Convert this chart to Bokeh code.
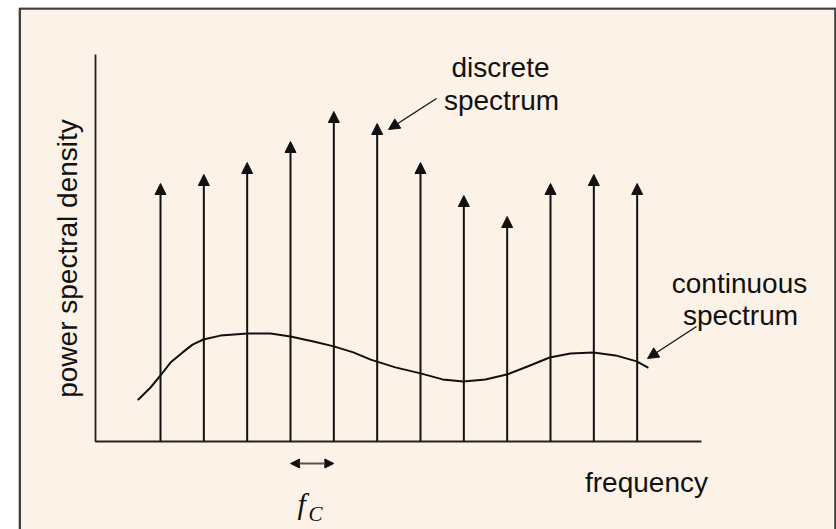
import math
from bokeh.plotting import figure
from bokeh.models import Range1d, ColumnDataSource, Arrow, NormalHead, Label
from bokeh.embed import file_html
from bokeh.resources import INLINE

# ---------------- data ----------------
# discrete spectrum: lines at multiples of the carrier spacing f_C
harmonic = [1, 2, 3, 4, 5, 6, 7, 8, 9, 10, 11, 12]
discrete_psd = [8.6, 8.9, 9.3, 10.0, 11.0, 10.6, 9.3, 8.2, 7.5, 8.6, 8.9, 8.6]

# continuous spectrum
continuous_freq = [0.49, 0.77, 1.00, 1.23, 1.51, 1.74, 1.99, 2.38, 3.01, 3.54,
                   4.00, 4.53, 5.00, 5.45, 5.85, 6.42, 7.00, 7.51, 7.99, 8.50,
                   8.99, 9.47, 9.98, 10.46, 10.99, 11.50, 11.99, 12.24]
continuous_psd = [1.40, 1.80, 2.20, 2.63, 2.97, 3.23, 3.40, 3.53, 3.60, 3.60,
                  3.50, 3.33, 3.17, 2.97, 2.73, 2.47, 2.27, 2.07, 2.00, 2.07,
                  2.23, 2.50, 2.80, 2.93, 2.97, 2.87, 2.67, 2.47]

y_label = "power spectral density"
x_label = "frequency"
discrete_label = ["discrete", "spectrum"]
continuous_label = ["continuous", "spectrum"]

# ---------------- layout ----------------
BG = "#FDF2E8"
INK = "#111111"
W, H = 836, 529
LEFT, TOP = 18, 7
PX0, PXS = 116.67, 43.333     # page-x of freq 0, px per f_C
BASE, PYS = 441.0, 30.0       # page-y of psd 0, px per unit


def dx(px):
    return (px - PX0) / PXS


def dy(py):
    return (BASE - py) / PYS


p = figure(width=W, height=H, output_backend="svg", toolbar_location=None,
           x_range=Range1d(dx(LEFT), dx(W)),
           y_range=Range1d(dy(H), dy(TOP)),
           x_axis_type=None, y_axis_type=None,
           min_border_left=LEFT, min_border_right=0,
           min_border_top=TOP, min_border_bottom=0,
           background_fill_color=BG, border_fill_color="white",
           outline_line_color=None)

# outer frame (left, top, right edges)
p.line([dx(19.2), dx(19.2), dx(835.0), dx(835.0)],
       [dy(560), dy(8.0), dy(8.0), dy(560)],
       line_width=2.6, line_color="#404040")

# axes (L shape)
x_origin = -0.5
p.line([x_origin, x_origin, dx(701)], [dy(54), 0, 0],
       line_width=1.8, line_color="#222222")

# discrete spectral lines
src = ColumnDataSource(dict(x=harmonic, y0=[0] * len(harmonic), y1=discrete_psd))
p.add_layout(Arrow(source=src, x_start="x", y_start="y0", x_end="x", y_end="y1",
                   line_width=2, line_color=INK,
                   end=NormalHead(size=11, fill_color=INK, line_color=INK, line_width=1)))

# continuous spectrum
p.line(continuous_freq, continuous_psd, line_width=2, line_color=INK,
       line_join="round", line_cap="round")

# f_C spacing marker
p.add_layout(Arrow(x_start=harmonic[3], y_start=dy(463), x_end=harmonic[4], y_end=dy(463),
                   line_width=2, line_color="#555555",
                   start=NormalHead(size=9, fill_color=INK, line_color=INK),
                   end=NormalHead(size=9, fill_color=INK, line_color=INK)))

# annotation arrows
p.add_layout(Arrow(x_start=dx(436), y_start=dy(98), x_end=dx(388), y_end=dy(129),
                   line_width=1.3, line_color=INK,
                   end=NormalHead(size=11, fill_color=INK, line_color=INK)))
p.add_layout(Arrow(x_start=dx(696), y_start=dy(326), x_end=dx(647), y_end=dy(358),
                   line_width=1.3, line_color=INK,
                   end=NormalHead(size=11, fill_color=INK, line_color=INK)))

FONT = "Liberation Sans"
FS = "28px"


def lab(text, px, py, align="center", angle=0.0, font=FONT, size=FS, style="normal"):
    p.add_layout(Label(x=dx(px), y=dy(py), text=text, text_align=align,
                       text_baseline="alphabetic", angle=angle,
                       text_font=font, text_font_size=size, text_font_style=style,
                       text_color=INK))


lab(discrete_label[0], 500, 67)
lab(discrete_label[1], 501, 100)
lab(continuous_label[0], 739, 283)
lab(continuous_label[1], 740, 315)
lab(x_label, 646, 482)
lab(y_label, 67, 258, angle=math.pi / 2)
lab("f", 297, 503, align="left", font="Liberation Serif", size="30px", style="italic")
lab("C", 308, 513, align="left", font="Liberation Serif", size="21px", style="italic")

open("out.html", "w").write(file_html(p, INLINE))
